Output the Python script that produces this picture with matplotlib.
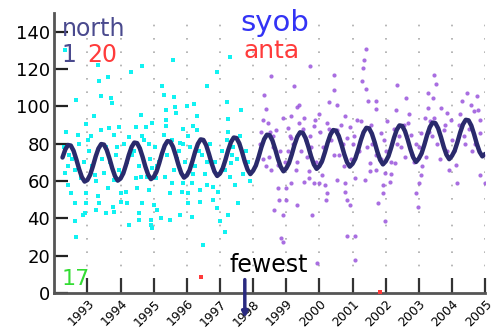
import numpy as np
import matplotlib
matplotlib.use("Agg")
import matplotlib.pyplot as plt

plt.rcParams['font.family'] = ['DejaVu Sans']

# Seasonal line, one row per year (monthly values)
line_start = 1992.25
line_rows = [
    [72.6, 76.9, 79.3, 79.0, 76.2, 71.6, 66.4, 62.1, 59.7],
    [60.5, 63.3, 67.9, 73.1, 77.4, 79.8, 79.5, 76.7, 72.1, 66.9, 62.6, 60.2],
    [61.3, 64.1, 68.7, 73.9, 78.2, 80.6, 80.3, 77.5, 72.9, 67.7, 63.4, 61.0],
    [62.1, 64.9, 69.5, 74.7, 79.0, 81.4, 81.1, 78.3, 73.7, 68.5, 64.2, 61.8],
    [63.0, 65.8, 70.4, 75.6, 79.9, 82.3, 82.0, 79.2, 74.6, 69.4, 65.1, 62.7],
    [64.0, 66.8, 71.4, 76.6, 80.9, 83.3, 83.0, 80.2, 75.6, 70.4, 66.1, 63.7],
    [65.5, 68.3, 72.9, 78.1, 82.4, 84.8, 84.5, 81.7, 77.1, 71.9, 67.6, 65.2],
    [66.8, 69.6, 74.2, 79.4, 83.7, 86.1, 85.8, 83.0, 78.4, 73.2, 68.9, 66.5],
    [68.0, 70.8, 75.4, 80.6, 84.9, 87.3, 87.0, 84.2, 79.6, 74.4, 70.1, 67.7],
    [69.2, 72.0, 76.6, 81.8, 86.1, 88.5, 88.2, 85.4, 80.8, 75.6, 71.3, 68.9],
    [70.5, 73.3, 77.9, 83.1, 87.4, 89.8, 89.5, 86.7, 82.1, 76.9, 72.6, 70.2],
    [72.0, 74.8, 79.4, 84.6, 88.9, 91.3, 91.0, 88.2, 83.6, 78.4, 74.1, 71.7],
    [73.5, 76.3, 80.9, 86.1, 90.4, 92.8, 92.5, 89.7, 85.1, 79.9, 75.6, 73.2],
    [74.5],
]

cyan_year = [
    1992.32, 1993.31, 1994.31, 1994.66, 1993.36, 1993.63, 1992.67, 1993.41, 1993.71, 1993.73,
    1993.19, 1994.61, 1992.97, 1992.37, 1992.72, 1993.41, 1993.66, 1993.96, 1994.46, 1994.76,
    1994.96, 1993.12, 1993.81, 1994.26, 1994.66,
    1995.57, 1997.30, 1996.90, 1996.60, 1995.25, 1995.30, 1995.60, 1997.22, 1995.65, 1995.37,
    1996.00, 1996.23, 1995.67, 1996.30, 1997.24, 1995.36, 1995.37, 1995.90, 1996.20, 1996.30,
    1997.24, 1995.30, 1996.05, 1995.56, 1995.80,
    1992.42, 1992.52, 1992.97, 1993.31, 1993.61, 1994.01, 1994.16, 1994.51, 1994.86, 1992.62,
    1992.97, 1993.36, 1993.76, 1994.01, 1994.21, 1994.66, 1992.92, 1993.27, 1993.56, 1993.81,
    1994.56, 1992.87, 1992.62, 1994.56, 1994.26, 1994.91, 1992.67, 1992.32, 1992.42, 1992.82,
    1993.22, 1993.51, 1993.81, 1994.46, 1994.81,
    1995.06, 1995.50, 1995.85, 1996.05, 1996.40, 1996.60, 1996.80, 1996.95, 1997.30, 1995.01,
    1995.10, 1996.05, 1996.40, 1996.80, 1996.90, 1995.80, 1996.15, 1995.50, 1995.21, 1994.91,
    1997.00, 1997.24, 1994.96, 1997.15, 1996.50, 1996.15, 1995.55, 1995.90, 1994.96, 1997.34,
    1992.30, 1992.55, 1992.75, 1992.90, 1993.05, 1993.15, 1993.45, 1993.55, 1993.85, 1993.95,
    1994.10, 1994.20, 1994.40, 1994.55, 1994.70, 1994.90, 1995.05, 1995.15, 1995.40, 1995.60,
    1995.75, 1995.95, 1996.10, 1996.25, 1996.45, 1996.55, 1996.70, 1996.85, 1997.05, 1997.15,
    1997.40, 1997.50, 1997.60, 1997.70, 1997.80, 1997.45, 1997.55, 1997.65, 1997.85, 1997.90,
    1992.45, 1992.62, 1993.02, 1993.25, 1993.68, 1993.90, 1994.05, 1994.35, 1994.62, 1994.85,
    1995.10, 1995.33, 1995.70, 1995.88, 1996.18, 1996.38, 1996.62, 1996.98, 1997.20, 1997.36,
]
cyan_value = [
    130, 122, 118.7, 121.8, 113.7, 115.7, 103.5, 105.3, 104.4, 101.8,
    95, 95.5, 90.7, 86, 84.8, 87.4, 88.4, 89.2, 89.2, 89.2,
    91, 83.9, 84.8, 83.5, 83.9,
    125, 126.4, 118.2, 111, 111, 106.2, 104.8, 102.6, 99.6, 97.8,
    100.3, 101.4, 96.4, 95, 93.2, 92.8, 89.6, 87.8, 89.6, 87.4,
    86.5, 84.8, 83.9, 82.1, 80.3,
    57.9, 53.5, 53.5, 51.7, 56.2, 53.5, 54.3, 56.2, 55.3, 48.1,
    48.1, 48.1, 46.3, 49, 48.1, 48.1, 42.8, 44.5, 42.8, 43.6,
    42.8, 41.8, 38.3, 39.2, 36.5, 36.5, 30.2, 64.2, 67.8, 61.5,
    63.3, 64.2, 60.6, 61.5, 62.4,
    61.5, 53.5, 54.3, 53.5, 55.3, 57.9, 57, 54.3, 62.4, 47.2,
    44.5, 48.1, 49, 49.9, 45.4, 41.8, 40.9, 39.2, 40.1, 39.2,
    38.3, 41.8, 34.7, 32.9, 25.8, 58.9, 58.9, 58.9, 66.9, 69.6,
    78, 72, 80, 70, 76, 68, 72, 78, 74, 66,
    80, 70, 76, 68, 82, 72, 78, 70, 74, 66,
    76, 70, 78, 68, 74, 64, 80, 70, 76, 66,
    78, 72, 84, 64, 76, 58, 48, 98, 70, 60,
    74, 66, 82, 60, 70, 78, 64, 74, 62, 80,
    68, 62, 72, 80, 64, 76, 70, 64, 82, 74,
]

purple_year = [
    1999.73, 1998.54, 2000.43, 1999.24, 2000.43, 1998.34, 2000.28, 1999.33, 1999.38, 1998.39,
    2000.53, 1998.29, 1998.89, 1999.14, 1999.54, 1999.88, 2000.78, 2001.13, 1998.44, 1999.39,
    1999.83, 2000.23, 1998.69, 1999.04, 2000.03, 2000.53, 2000.93, 1998.59, 1999.14, 1999.73,
    2000.83,
    2001.40, 2001.36, 2001.33, 2001.30, 2001.42, 2003.46, 2003.51, 2002.35, 2001.47, 2001.72,
    2002.62, 2003.27, 2003.42, 2004.46, 2004.76, 2004.31, 2001.72, 2002.32, 2003.27, 2003.66,
    2004.56, 2004.66, 2003.86, 2003.46, 2001.57, 2002.67, 2003.96, 2004.21, 2004.86, 2003.07,
    2003.76, 2001.87, 2002.77, 2004.86,
    1998.49, 1998.74, 1998.39, 1999.33, 1999.63, 1999.68, 1999.83, 1999.98, 2000.18, 2000.23,
    1998.74, 1998.99, 1999.14, 1998.79, 1998.99, 1999.33, 1998.64, 1998.89, 1999.78, 2000.21,
    2000.78, 2000.83, 2000.93, 2000.78, 1998.84, 1998.89, 2000.83, 2001.08, 1999.93, 2001.08,
    1999.68, 2000.08, 1999.53, 2000.53, 2001.08,
    2001.37, 2001.52, 2001.72, 2001.97, 2002.17, 2002.12, 2001.92, 2001.92, 2001.77, 2001.97,
    2003.07, 2003.02, 2002.92, 2002.97, 2002.57, 2003.22, 2003.91, 2004.16, 2004.11, 2004.86,
    2005.00, 2001.52, 2002.27,
    1998.20, 1998.30, 1998.60, 1998.95, 1999.05, 1999.20, 1999.45, 1999.60, 1999.90, 2000.10,
    2000.35, 2000.60, 2000.70, 2000.95, 2001.05, 2001.20, 2001.60, 2001.85, 2002.00, 2002.40,
    2002.45, 2002.80, 2002.90, 2003.10, 2003.30, 2003.55, 2003.85, 2004.00, 2004.35, 2004.50,
    2004.70, 2004.95, 2002.25, 2003.35, 2002.70, 2002.05, 2000.00, 1998.50, 2000.65,
    1998.25, 1998.55, 1998.80, 1999.10, 1999.30, 1999.50, 1999.75, 2000.05, 2000.30, 2000.45,
    2000.75, 2001.00, 2001.25, 2001.45, 2001.70, 2001.95, 2002.15, 2002.35, 2002.55, 2002.85,
    2003.00, 2003.20, 2003.40, 2003.65, 2003.80, 2004.05, 2004.25, 2004.40, 2004.60, 2004.80,
]
purple_value = [
    121.4, 116.4, 117, 110.7, 108.9, 106.2, 102.6, 99.6, 100.8, 98.5,
    100.9, 92.8, 93.7, 94.6, 93.7, 92.8, 94.6, 92.8, 91, 91,
    89.6, 91, 87.4, 88.4, 86.5, 87.4, 89.2, 83.9, 83, 83.9,
    83,
    130.7, 125, 120.5, 113.4, 109.3, 117, 112.1, 111.6, 103, 103,
    104.4, 107.1, 104.4, 107.1, 105.7, 103, 98.5, 98.2, 99.1, 99.1,
    100.9, 97.3, 96.4, 93.7, 90.1, 91, 92.8, 90.1, 92.8, 85.7,
    87.4, 85.7, 84.8, 85.7,
    73.1, 68.7, 67.8, 70.4, 73.1, 65.1, 58.9, 58.9, 57.9, 53.5,
    56.2, 56.2, 58.9, 49.9, 49.9, 47.2, 44.5, 41.8, 41.5, 49.9,
    58.9, 49.9, 47.2, 54.3, 29.3, 27.5, 30.6, 30.6, 15.9, 17.7,
    61.5, 63.3, 59.7, 60.6, 61.5,
    60.6, 65.1, 66, 64.2, 63.8, 59.7, 57.9, 53.5, 48.1, 38.8,
    63.3, 58.9, 53.5, 46.3, 73.1, 73.1, 66, 58.9, 68.7, 63.3,
    58.9, 69.6, 69.6,
    80, 72, 78, 70, 76, 80, 76, 82, 70, 78,
    82, 74, 80, 72, 84, 76, 80, 72, 76, 84,
    78, 74, 80, 68, 86, 80, 76, 82, 84, 88,
    80, 74, 88, 92, 96, 92, 96, 86, 90,
    86, 66, 76, 84, 66, 88, 78, 70, 88, 74,
    68, 80, 92, 78, 74, 82, 70, 80, 90, 70,
    78, 94, 84, 72, 90, 76, 96, 80, 76, 98,
]

red_year = [1996.44, 2001.84]
red_value = [8.6, 0.7]

years = list(range(1993, 2006))

# build monthly time axis for the line
line_x = []
line_y = []
for i, row in enumerate(line_rows):
    for j, v in enumerate(row):
        if i == 0:
            line_x.append(line_start + j / 12)
        else:
            line_x.append(1992 + i + j / 12)
        line_y.append(v)

fig = plt.figure(figsize=(4.93, 3.28), dpi=100)
ax = fig.add_axes([0.110, 0.107, 0.874, 0.853])

ax.scatter(cyan_year, cyan_value, s=8, marker='s', color='#11f2f2', linewidths=0, zorder=2)
ax.scatter(purple_year, purple_value, s=9, marker='o', color='#9a55dc', alpha=0.85,
           linewidths=0, zorder=2)
ax.scatter(red_year, red_value, s=6, marker='s', color='#ff3a3a', linewidths=0,
           zorder=3, clip_on=False)
ax.plot(line_x, line_y, color='#2a2a6c', lw=3.2, solid_capstyle='round', zorder=4)

ax.set_xlim(1992, 2005)
ax.set_ylim(0, 150)
ax.set_xticks(years)
ax.set_xticklabels([str(y) for y in years], rotation=45, ha='right', va='top',
                   rotation_mode='anchor', fontsize=9)
ax.set_yticks(range(0, 141, 20))
ax.tick_params(axis='y', direction='in', length=10, width=1.6, labelsize=13, pad=3,
               color='#222222')
ax.tick_params(axis='x', direction='in', length=11, width=1.6, pad=3, color='#333333')

ax.grid(axis='x', color='#aaaaaa', lw=1.2, linestyle=(0, (1, 7)))
ax.grid(axis='y', visible=False)
for side in ['top', 'right']:
    ax.spines[side].set_visible(False)
for side in ['left', 'bottom']:
    ax.spines[side].set_color('#555555')
    ax.spines[side].set_linewidth(2)

ax.text(1992.23, 138, 'north', color='#4a4a8e', fontsize=17, ha='left', va='baseline')
ax.text(1992.23, 124, '1', color='#4a4a8e', fontsize=17, ha='left', va='baseline')
ax.text(1993.0, 124, '20', color='#ff3b3b', fontsize=17, ha='left', va='baseline')
ax.text(1997.63, 140.5, 'syob', color='#3333f5', fontsize=21, ha='left', va='baseline')
ax.text(1997.72, 126, 'anta', color='#ff3b3b', fontsize=18, ha='left', va='baseline')
ax.text(1992.23, 4.3, '17', color='#33dd33', fontsize=16, ha='left', va='baseline')

ax.annotate('fewest', xy=(1997.75, -13.5), xytext=(1997.30, 11.3),
            fontsize=17, color='black', ha='left', va='baseline',
            annotation_clip=False,
            arrowprops=dict(arrowstyle='-|>', color='#2a2a80', lw=2.5,
                            mutation_scale=8, shrinkA=0, shrinkB=0,
                            relpos=(0.19, 0.0)))

fig.savefig('out.png', dpi=100)
